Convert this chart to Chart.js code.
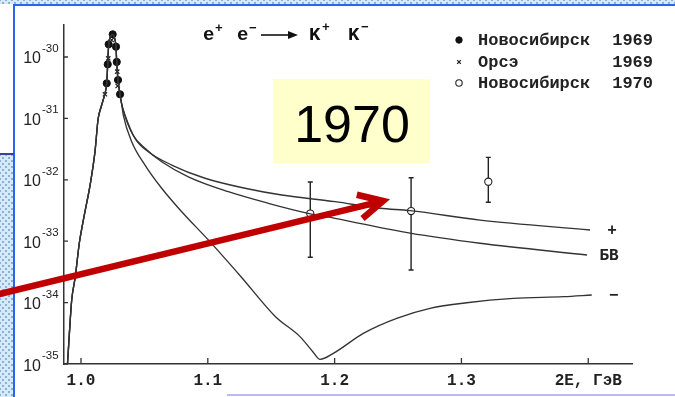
<!DOCTYPE html>
<html>
<head>
<meta charset="utf-8">
<script src="https://cdn.jsdelivr.net/npm/chart.js@4.4.1/dist/chart.umd.min.js"></script>
<style>
  html, body { margin: 0; padding: 0; background: #fff; }
  #slide { position: relative; width: 675px; height: 397px; overflow: hidden; background: #fff; }
  .dots {
    position: absolute;
    background-color: #d4eaf8;
    background-image:
      radial-gradient(circle, #8fb0d4 0.9px, transparent 1.3px),
      radial-gradient(circle, #8fb0d4 0.9px, transparent 1.3px);
    background-size: 6px 6px, 6px 6px;
    background-position: 0 0, 3px 3px;
  }
  #bandTop { left: 0; top: 0; width: 675px; height: 4px; }
  #bandLeft { left: 0; top: 155px; width: 13px; height: 242px; }
  #lineTop { position: absolute; left: 13px; top: 4px; width: 662px; height: 2px; background: #2b63f2; }
  #lineLeft { position: absolute; left: 13px; top: 4px; width: 2px; height: 393px; background: #2b63f2; }
  #lineNavy { position: absolute; left: 0; top: 153px; width: 14px; height: 2px; background: #3b3f9e; }
  #lineBottom { position: absolute; left: 227px; top: 394px; width: 448px; height: 2px; background: #bcbcec; }
  #chart { position: absolute; left: 0; top: 0; }
</style>
</head>
<body>
<div id="slide">
  <div id="bandTop" class="dots"></div>
  <div id="bandLeft" class="dots"></div>
  <div id="lineTop"></div>
  <div id="lineLeft"></div>
  <div id="lineNavy"></div>
  <div id="lineBottom"></div>
  <canvas id="chart" width="675" height="397"></canvas>
</div>
<script>
// Axis ticks
const xTickValues = [1.0, 1.1, 1.2, 1.3, 1.4];
const xTickLabels = ['1.0', '1.1', '1.2', '1.3', '2E, ГэВ'];
const yTickValues = [1e-35, 1e-34, 1e-33, 1e-32, 1e-31, 1e-30];
const yTickBase = '10';
const yTickExponents = ['-35', '-34', '-33', '-32', '-31', '-30'];

// Resonance region shared by all three calculated curves (2E in GeV, cross section in cm²)
const peakEnergy = [0.98935, 0.99077, 0.99267, 0.99550, 0.99866, 1.00237, 1.00741, 1.01104,
  1.01349, 1.01593, 1.01853, 1.02027, 1.02106, 1.02185, 1.02326, 1.02500, 1.02642, 1.02760,
  1.02816, 1.02918, 1.03076, 1.03194];
const peakSigma = [1.0e-35, 2.97e-35, 1.10e-34, 2.64e-34, 9.25e-34, 2.51e-33, 8.77e-33, 2.87e-32,
  9.77e-32, 1.55e-31, 2.40e-31, 3.73e-31, 7.60e-31, 1.61e-30, 2.12e-30, 2.34e-30, 2.04e-30, 1.47e-30,
  8.30e-31, 4.22e-31, 2.47e-31, 1.78e-31];

// Curve "+"
const plusEnergy = [1.0347, 1.04259, 1.05308, 1.07153, 1.09779, 1.12934, 1.15828, 1.20032,
  1.2358, 1.25946, 1.31467, 1.40142];
const plusSigma = [1.135e-31, 4.74e-32, 2.87e-32, 1.74e-32, 1.06e-32, 7.28e-33, 5.65e-33, 4.40e-33,
  3.44e-33, 3.14e-33, 2.21e-33, 1.52e-33];

// Curve "БВ"
const bvEnergy = [1.03391, 1.04101, 1.05047, 1.06364, 1.08462, 1.11617, 1.14771, 1.17926,
  1.20032, 1.25946, 1.31467, 1.39905];
const bvSigma = [1.22e-31, 5.37e-32, 3.26e-32, 1.97e-32, 1.12e-32, 6.40e-33, 4.14e-33, 2.84e-33,
  2.36e-33, 1.35e-33, 9.25e-34, 5.96e-34];

// Curve "−"
const minusEnergy = [1.03336, 1.03998, 1.05047, 1.06364, 1.07941, 1.10039, 1.12618, 1.15339,
  1.17271, 1.18297, 1.18849, 1.19897, 1.22263, 1.24897, 1.27524, 1.30418, 1.34093, 1.38037, 1.40276];
const minusSigma = [1.135e-31, 4.18e-32, 1.74e-32, 7.28e-33, 3.02e-33, 1.05e-33, 2.64e-34, 5.89e-35,
  2.79e-35, 1.57e-35, 1.19e-35, 1.49e-35, 3.16e-35, 5.55e-35, 8.07e-35, 9.95e-35, 1.17e-34, 1.25e-34, 1.33e-34];

// Measurements
const nsk69Energy = [1.0250, 1.0218, 1.0276, 1.0211, 1.0282, 1.0203, 1.0292, 1.0308];
const nsk69Sigma = [2.34e-30, 1.61e-30, 1.47e-30, 7.6e-31, 8.3e-31, 3.73e-31, 4.22e-31, 2.47e-31];
const orsay69Energy = [1.0242, 1.0215, 1.0286, 1.0289, 1.0189];
const orsay69Sigma = [1.89e-30, 9.5e-31, 5.77e-31, 3.37e-31, 2.47e-31];
const nsk70Energy = [1.1808, 1.2603, 1.3212];
const nsk70Sigma = [2.82e-33, 3.10e-33, 9.31e-33];
const nsk70Low = [5.47e-34, 3.40e-34, 4.31e-33];
const nsk70High = [9.2e-33, 1.08e-32, 2.32e-32];

const legendNames = ['Новосибирск', 'Орсэ', 'Новосибирск'];
const legendYears = ['1969', '1969', '1970'];
const curveNames = ['+', 'БВ', '−'];
const highlightYear = '1970';
// point the arrow aims at (2E, sigma)
const arrowTarget = { x: 1.2382, y: 4.52e-33 };

const toPoints = (xs, ys) => xs.map((x, i) => ({ x: x, y: ys[i] }));
const INK = '#333';

const curveStyle = {
  showLine: true, pointRadius: 0, borderColor: INK, borderWidth: 1.35,
  cubicInterpolationMode: 'monotone', fill: false
};

const datasets = [
  Object.assign({ label: curveNames[0], data: toPoints(peakEnergy.concat(plusEnergy), peakSigma.concat(plusSigma)) }, curveStyle),
  Object.assign({ label: curveNames[1], data: toPoints(peakEnergy.concat(bvEnergy), peakSigma.concat(bvSigma)) }, curveStyle),
  Object.assign({ label: curveNames[2], data: toPoints(peakEnergy.concat(minusEnergy), peakSigma.concat(minusSigma)) }, curveStyle),
  { label: legendNames[0] + ' ' + legendYears[0], data: toPoints(nsk69Energy, nsk69Sigma),
    pointStyle: 'circle', pointRadius: 3.6, backgroundColor: '#111', borderColor: '#111', borderWidth: 1 },
  { label: legendNames[1] + ' ' + legendYears[1], data: toPoints(orsay69Energy, orsay69Sigma),
    pointStyle: 'crossRot', pointRadius: 3, borderColor: '#222', borderWidth: 1.3 },
  { label: legendNames[2] + ' ' + legendYears[2], data: toPoints(nsk70Energy, nsk70Sigma),
    pointStyle: 'circle', pointRadius: 3.6, backgroundColor: '#fff', borderColor: '#222', borderWidth: 1.1 }
];

// vertical error bars for the 1970 points, under the open circles
const errorBars = {
  id: 'errorBars',
  beforeDatasetsDraw(chart) {
    const { ctx, scales: { x, y } } = chart;
    ctx.save();
    ctx.strokeStyle = '#222';
    ctx.lineWidth = 1.4;
    nsk70Energy.forEach((e, i) => {
      const px = x.getPixelForValue(e);
      const top = y.getPixelForValue(nsk70High[i]);
      const bot = y.getPixelForValue(nsk70Low[i]);
      ctx.beginPath();
      ctx.moveTo(px, top); ctx.lineTo(px, bot);
      ctx.moveTo(px - 2.5, top); ctx.lineTo(px + 2.5, top);
      ctx.moveTo(px - 2.5, bot); ctx.lineTo(px + 2.5, bot);
      ctx.stroke();
    });
    ctx.restore();
  }
};

// power-of-ten labels for the logarithmic axis, with a raised exponent
const powerLabels = {
  id: 'powerLabels',
  afterDraw(chart) {
    const { ctx, chartArea: a, scales: { y } } = chart;
    ctx.save();
    ctx.fillStyle = '#222';
    y.ticks.forEach((t, i) => {
      const py = y.getPixelForValue(t.value);
      const right = a.left - 23;
      ctx.textAlign = 'right';
      ctx.textBaseline = 'alphabetic';
      ctx.font = '16px "Liberation Sans", Arial, sans-serif';
      ctx.fillText(yTickBase, right, py + 6.5);
      ctx.textAlign = 'left';
      ctx.font = '11.5px "Liberation Sans", Arial, sans-serif';
      ctx.fillText(yTickExponents[i], right + 1, py - 5);
    });
    ctx.restore();
  }
};

// inward tick marks, title, legend, curve names and the overlay
const decorations = {
  id: 'decorations',
  afterDraw(chart) {
    const { ctx, chartArea: a, scales: { x, y } } = chart;
    ctx.save();

    // tick marks pointing into the plot
    ctx.strokeStyle = '#333';
    ctx.lineWidth = 1.3;
    ctx.beginPath();
    yTickValues.forEach(v => {
      const py = y.getPixelForValue(v);
      ctx.moveTo(a.left, py); ctx.lineTo(a.left + 4, py);
    });
    xTickValues.forEach(v => {
      const px = x.getPixelForValue(v);
      ctx.moveTo(px, a.bottom); ctx.lineTo(px, a.bottom - 6);
    });
    ctx.stroke();

    // reaction title
    ctx.fillStyle = '#111';
    ctx.textBaseline = 'alphabetic';
    ctx.textAlign = 'left';
    const big = 'bold 19px "Liberation Mono", monospace';
    const sup = 'bold 13px "Liberation Mono", monospace';
    const base = 40;
    ctx.font = big; ctx.fillText('e', 203, base);
    ctx.font = sup; ctx.fillText('+', 215, base - 8);
    ctx.font = big; ctx.fillText('e', 237, base);
    ctx.font = sup; ctx.fillText('−', 249, base - 8);
    ctx.strokeStyle = '#111';
    ctx.lineWidth = 1.6;
    ctx.beginPath(); ctx.moveTo(261, 35); ctx.lineTo(291, 35); ctx.stroke();
    ctx.beginPath(); ctx.moveTo(298, 35); ctx.lineTo(288, 31); ctx.lineTo(288, 39); ctx.closePath(); ctx.fill();
    ctx.font = big; ctx.fillText('K', 309, base);
    ctx.font = sup; ctx.fillText('+', 322, base - 9);
    ctx.font = big; ctx.fillText('K', 348, base);
    ctx.font = sup; ctx.fillText('−', 361, base - 9);

    // legend
    const rows = [40, 62, 83];
    ctx.font = 'bold 17px "Liberation Mono", monospace';
    ctx.textBaseline = 'middle';
    rows.forEach((ry, i) => {
      const ds = chart.data.datasets[3 + i];
      ctx.save();
      ctx.lineWidth = ds.borderWidth;
      ctx.strokeStyle = ds.borderColor;
      ctx.fillStyle = ds.backgroundColor || ds.borderColor;
      Chart.helpers.drawPoint(ctx, {
        pointStyle: ds.pointStyle, radius: i === 1 ? 2.6 : 3.2, borderWidth: ds.borderWidth
      }, 459, ry);
      ctx.restore();
      ctx.fillStyle = '#222';
      ctx.textAlign = 'left';
      ctx.fillText(legendNames[i], 478, ry + 1);
      ctx.textAlign = 'right';
      ctx.fillText(legendYears[i], 653, ry + 1);
    });

    // names at the right end of the curves
    ctx.font = 'bold 16px "Liberation Mono", monospace';
    ctx.textAlign = 'center';
    [0, 1, 2].forEach(k => {
      const d = chart.data.datasets[k].data;
      const last = d[d.length - 1];
      const px = x.getPixelForValue(last.x);
      const py = y.getPixelForValue(last.y);
      ctx.fillText(curveNames[k], px + 22, py + 1);
    });

    // yellow year label
    ctx.fillStyle = '#ffffcc';
    ctx.fillRect(273, 79, 157, 84);
    ctx.fillStyle = '#000';
    ctx.font = '52px "Liberation Sans", Arial, sans-serif';
    ctx.textAlign = 'center';
    ctx.textBaseline = 'alphabetic';
    ctx.fillText(highlightYear, 352, 142);

    // red arrow
    const tx = x.getPixelForValue(arrowTarget.x);
    const ty = y.getPixelForValue(arrowTarget.y);
    const sx = -5, sy = 295;
    const ang = Math.atan2(ty - sy, tx - sx);
    ctx.strokeStyle = '#c00000';
    ctx.lineWidth = 6.5;
    ctx.lineCap = 'butt';
    ctx.lineJoin = 'miter';
    ctx.beginPath();
    ctx.moveTo(sx, sy);
    ctx.lineTo(tx - 3 * Math.cos(ang), ty - 3 * Math.sin(ang));
    ctx.stroke();
    const wing = 27, spread = 0.47;
    ctx.beginPath();
    ctx.moveTo(tx - wing * Math.cos(ang - spread), ty - wing * Math.sin(ang - spread));
    ctx.lineTo(tx, ty);
    ctx.lineTo(tx - wing * Math.cos(ang + spread), ty - wing * Math.sin(ang + spread));
    ctx.stroke();

    ctx.restore();
  }
};

new Chart(document.getElementById('chart'), {
  type: 'scatter',
  data: { datasets: datasets },
  plugins: [errorBars, powerLabels, decorations],
  options: {
    responsive: false,
    animation: false,
    devicePixelRatio: 1,
    layout: { padding: { left: 0, top: 25, right: 43, bottom: 0 } },
    plugins: { legend: { display: false }, tooltip: { enabled: false }, title: { display: false } },
    scales: {
      x: {
        type: 'linear',
        min: 0.9866,
        max: 1.4345,
        afterBuildTicks: s => { s.ticks = xTickValues.map(v => ({ value: v })); },
        afterFit: s => { s.height = 33; },
        ticks: {
          callback: (v, i) => xTickLabels[i],
          font: { family: '"Liberation Mono", monospace', size: 16, weight: 'bold' },
          color: '#222', padding: 7, maxRotation: 0, autoSkip: false
        },
        grid: { display: true, drawOnChartArea: false, drawTicks: false },
        border: { display: true, color: '#333', width: 1.5 }
      },
      y: {
        type: 'logarithmic',
        min: 1e-35,
        max: 3.32e-30,
        afterBuildTicks: s => { s.ticks = yTickValues.map(v => ({ value: v })); },
        afterFit: s => { s.width = 64; },
        ticks: { display: false },
        grid: { display: true, drawOnChartArea: false, drawTicks: false },
        border: { display: true, color: '#333', width: 1.5 }
      }
    }
  }
});
</script>
</body>
</html>
